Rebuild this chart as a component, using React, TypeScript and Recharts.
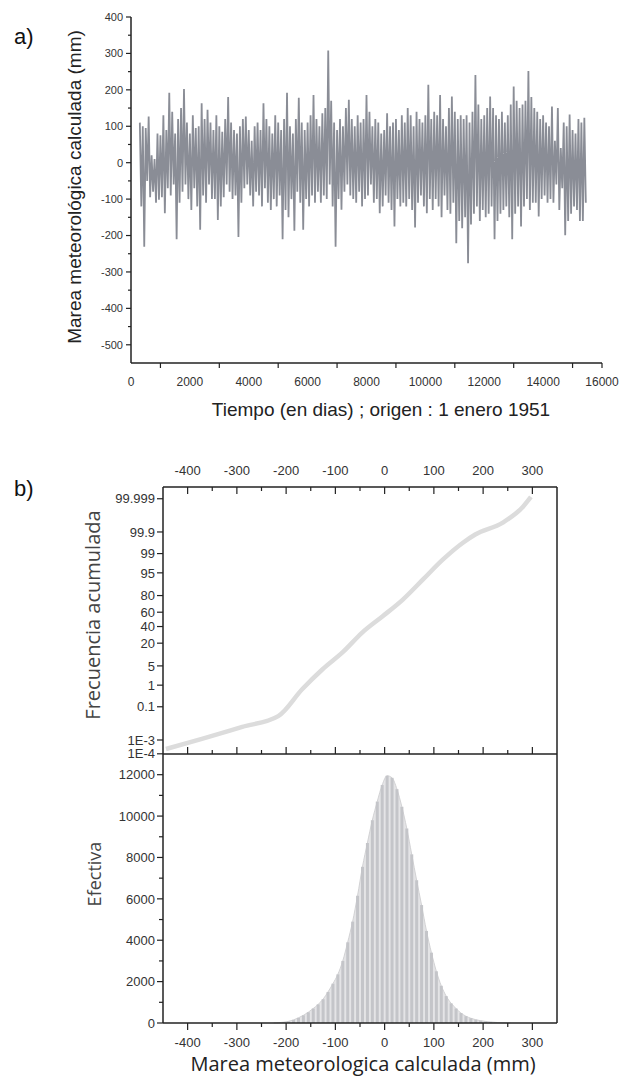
import React from 'react';
import { LineChart, Line, XAxis, YAxis, ComposedChart, Bar, Area } from 'recharts';

// a) daily series, condensed into high/low pairs every 100 days
const tideStartDay = 300;
const tideStepDays = 100;
const tideHigh = [
  110, 100, 95, 127, 20, 10, 80, 75, 130, 90,
  192, 140, 80, 120, 150, 202, 110, 80, 130, 95,
  100, 163, 120, 145, 110, 90, 130, 100, 85, 120,
  180, 110, 90, 80, 100, 120, 127, 90, 60, 100,
  110, 90, 163, 120, 100, 80, 130, 110, 90, 120,
  192, 100, 80, 120, 178, 110, 90, 110, 130, 186,
  120, 100, 136, 150, 308, 170, 110, 90, 120, 100,
  150, 173, 120, 100, 130, 110, 120, 186, 140, 100,
  120, 110, 80, 90, 136, 100, 110, 120, 90, 130,
  110, 150, 130, 100, 140, 120, 110, 130, 214, 120,
  140, 130, 186, 120, 100, 150, 182, 140, 120, 130,
  120, 130, 110, 140, 241, 160, 120, 130, 150, 182,
  150, 130, 120, 140, 110, 130, 160, 209, 170, 150,
  160, 170, 252, 180, 150, 140, 120, 130, 110, 100,
  154, 60, 150, 40, 110, 100, 132, 90, 80, 120, 110, 123,
];
const tideLow = [
  -120, -231, -50, -95, -80, -110, -102, -95, -139, -70,
  -90, -60, -210, -110, -80, -60, -100, -130, -70, -120,
  -184, -90, -110, -60, -100, -100, -157, -120, -95, -60,
  -80, -100, -90, -204, -110, -70, -60, -90, -120, -80,
  -90, -120, -70, -110, -130, -100, -120, -90, -210, -130,
  -150, -100, -187, -80, -110, -184, -100, -120, -90, -110,
  -80, -110, -90, -100, -60, -120, -231, -100, -129, -80,
  -60, -90, -100, -110, -80, -120, -100, -90, -60, -110,
  -100, -139, -120, -90, -110, -130, -175, -100, -120, -110,
  -120, -100, -130, -178, -110, -90, -120, -139, -100, -130,
  -100, -120, -150, -90, -130, -140, -110, -221, -160, -180,
  -150, -276, -170, -140, -120, -160, -130, -150, -140, -120,
  -210, -160, -140, -130, -120, -150, -210, -140, -120, -175,
  -120, -100, -130, -110, -110, -148, -100, -90, -110, -100,
  -110, -60, -130, -70, -199, -160, -140, -120, -130, -160, -160, -110,
];
const dayTicks = [0, 1000, 2000, 3000, 4000, 5000, 6000, 7000, 8000, 9000, 10000, 11000, 12000, 13000, 14000, 15000, 16000];
const tideTicks = [-500, -450, -400, -350, -300, -250, -200, -150, -100, -50, 0, 50, 100, 150, 200, 250, 300, 350, 400];

// b) cumulative frequency (%) and histogram
const cumMm = [-444, -371, -289, -216, -167, -126, -85, -45, -4, 37, 78, 118, 159, 184, 240, 281, 297];
const cumPct = [0.00023, 0.0012, 0.0072, 0.031, 0.69, 3.9, 12.3, 32.3, 54.4, 75.8, 92.1, 98.26, 99.664, 99.865, 99.969, 99.9966, 99.99925];
const probTicks = [0.0001, 0.001, 0.1, 1, 5, 20, 40, 60, 80, 95, 99, 99.9, 99.999];
const probLabels = ['1E-4', '1E-3', '0.1', '1', '5', '20', '40', '60', '80', '95', '99', '99.9', '99.999'];
const mmTicks = [-400, -350, -300, -250, -200, -150, -100, -50, 0, 50, 100, 150, 200, 250, 300];

const binMm = [
  -225, -215, -205, -195, -185, -175, -165, -155, -145, -135, -125, -115, -105, -95, -85, -75, -65,
  -55, -45, -35, -25, -15, -5, 5, 15, 25, 35, 45, 55, 65, 75, 85, 95, 105, 115, 125, 135, 145,
  155, 165, 175, 185, 195, 205, 215, 225, 235, 245, 255,
];
const binCount = [
  5, 15, 40, 80, 150, 250, 370, 520, 700, 900, 1150, 1500, 1900, 2350, 3000, 3900, 4900,
  6150, 7550, 8700, 9800, 10700, 11500, 11950, 11850, 11300, 10450, 9400, 8150, 6900, 5700, 4450, 3400, 2500, 1800, 1300, 950, 700,
  480, 330, 230, 160, 110, 75, 50, 30, 15, 8, 3,
];
const countTicks = [0, 1000, 2000, 3000, 4000, 5000, 6000, 7000, 8000, 9000, 10000, 11000, 12000];

// inverse normal cdf (Acklam), for the probability axis
function probit(p: number) {
  const a = [-39.69683028665376, 220.9460984245205, -275.9285104469687, 138.357751867269, -30.66479806614716, 2.506628277459239];
  const b = [-54.47609879822406, 161.5858368580409, -155.6989798598866, 66.80131188771972, -13.28068155288572];
  const c = [-0.007784894002430293, -0.3223964580411365, -2.400758277161838, -2.549671348594094, 4.374664141464968, 2.938163982698783];
  const d = [0.007784695709041462, 0.3224671290700398, 2.445134137142996, 3.754408661907416];
  const lo = 0.02425;
  if (p < lo) {
    const q = Math.sqrt(-2 * Math.log(p));
    return (((((c[0] * q + c[1]) * q + c[2]) * q + c[3]) * q + c[4]) * q + c[5]) / ((((d[0] * q + d[1]) * q + d[2]) * q + d[3]) * q + 1);
  }
  if (p > 1 - lo) {
    const q = Math.sqrt(-2 * Math.log(1 - p));
    return -(((((c[0] * q + c[1]) * q + c[2]) * q + c[3]) * q + c[4]) * q + c[5]) / ((((d[0] * q + d[1]) * q + d[2]) * q + d[3]) * q + 1);
  }
  const q = p - 0.5;
  const r = q * q;
  return ((((((a[0] * r + a[1]) * r + a[2]) * r + a[3]) * r + a[4]) * r + a[5]) * q) / (((((b[0] * r + b[1]) * r + b[2]) * r + b[3]) * r + b[4]) * r + 1);
}

const tideData = tideHigh.flatMap((h, i) => [
  { day: tideStartDay + i * tideStepDays, v: h },
  { day: tideStartDay + i * tideStepDays + tideStepDays / 2, v: tideLow[i] },
]);
const cumData = cumMm.map((m, i) => ({ mm: m, z: probit(cumPct[i] / 100) }));
const probZ = probTicks.map((p) => probit(p / 100));
const histData = binMm.map((m, i) => ({ mm: m, count: binCount[i] }));

const tickFont = "'Liberation Sans Narrow', 'Liberation Sans', Arial, sans-serif";
const axisColor = '#222';

type Side = 'left' | 'right' | 'top' | 'bottom';
function makeTick(side: Side, len: (v: number) => number, label: (v: number) => string | null, gap: number, font: number) {
  return (props: any) => {
    const { x, y, payload } = props;
    const v = payload.value;
    const l = len(v);
    const t = label(v);
    let x2 = x, y2 = y, tx = x, ty = y, anchor: 'start' | 'middle' | 'end' = 'middle';
    if (side === 'left') { x2 = x - l; tx = x - gap; ty = y + font * 0.36; anchor = 'end'; }
    if (side === 'right') { x2 = x + l; tx = x + gap; ty = y + font * 0.36; anchor = 'start'; }
    if (side === 'bottom') { y2 = y + l; ty = y + gap; }
    if (side === 'top') { y2 = y - l; ty = y - gap; }
    return (
      <g>
        {l !== 0 && <line x1={x} y1={y} x2={x2} y2={y2} stroke={axisColor} strokeWidth={1.2} />}
        {t !== null && (
          <text x={tx} y={ty} textAnchor={anchor} fontSize={font} fontFamily={tickFont} fill="#333">{t}</text>
        )}
      </g>
    );
  };
}

const probLabel = (z: number) => {
  let best = 0;
  probZ.forEach((pz, i) => { if (Math.abs(pz - z) < Math.abs(probZ[best] - z)) best = i; });
  return probLabels[best];
};

const axisLine = { stroke: axisColor, strokeWidth: 1.5 };

function VLabel({ x, y, text, size, family, color }: { x: number; y: number; text: string; size: number; family: string; color: string }) {
  return (
    <div style={{ position: 'absolute', left: x, top: y, transform: 'translate(-50%, -50%) rotate(-90deg)', whiteSpace: 'nowrap', lineHeight: 1.1, fontSize: size, fontFamily: family, color }}>
      {text}
    </div>
  );
}
function HLabel({ x, y, text, size, family, color }: { x: number; y: number; text: string; size: number; family: string; color: string }) {
  return (
    <div style={{ position: 'absolute', left: x, top: y, transform: 'translate(-50%, -50%)', whiteSpace: 'nowrap', lineHeight: 1.1, fontSize: size, fontFamily: family, color }}>
      {text}
    </div>
  );
}

export default function App() {
  const sans = "'Liberation Sans', Arial, sans-serif";
  const humanist = "'Open Sans', 'Noto Sans', sans-serif";
  return (
    <div style={{ position: 'absolute', left: 0, top: 0, width: 632, height: 1078, background: '#fff', overflow: 'hidden' }}>
      <div style={{ position: 'absolute', left: 14, top: 24, fontSize: 22, fontFamily: sans, color: '#111' }}>a)</div>
      <div style={{ position: 'absolute', left: 14, top: 476, fontSize: 22, fontFamily: sans, color: '#111' }}>b)</div>

      <div style={{ position: 'absolute', left: 0, top: 0 }}>
        <LineChart width={632} height={400} data={tideData} margin={{ top: 17, right: 30, bottom: 7, left: 0 }}>
          <XAxis dataKey="day" type="number" domain={[0, 16000]} ticks={dayTicks} interval={0} height={30}
            axisLine={axisLine} tickLine={false} tickSize={0} tickMargin={0}
            tick={makeTick('bottom', (v) => (v % 2000 !== 0 || v === 16000 ? 5 : 0), (v) => (v % 2000 === 0 ? String(v) : null), 23, 12)} />
          <YAxis dataKey="v" type="number" domain={[-550, 400]} ticks={tideTicks} interval={0} width={131}
            axisLine={axisLine} tickLine={false} tickSize={0} tickMargin={0}
            tick={makeTick('left', (v) => (v % 100 === 0 ? 5 : 3), (v) => (v % 100 === 0 ? String(v) : null), 8, 11)} />
          <Line dataKey="v" type="linear" stroke="#8a8d96" strokeWidth={1.8} dot={false} isAnimationActive={false} />
        </LineChart>
      </div>
      <VLabel x={75} y={187} text="Marea meteorológica calculada (mm)" size={19} family={sans} color="#222" />
      <HLabel x={381} y={410} text="Tiempo (en dias) ; origen : 1 enero 1951" size={19} family={sans} color="#222" />

      <div style={{ position: 'absolute', left: 0, top: 440 }}>
        <LineChart width={632} height={325} data={cumData} margin={{ top: 12, right: 74, bottom: 10, left: 0 }}>
          <XAxis xAxisId="top" orientation="top" dataKey="mm" type="number" domain={[-450, 350]} ticks={mmTicks} interval={0} height={35}
            axisLine={axisLine} tickLine={false} tickSize={0} tickMargin={0}
            tick={makeTick('top', (v) => (v % 100 === 0 ? -7 : -4), (v) => (v % 100 === 0 ? String(v) : null), 12, 13)} />
          <XAxis xAxisId="bot" orientation="bottom" dataKey="mm" type="number" domain={[-450, 350]} ticks={mmTicks} interval={0} height={1}
            axisLine={axisLine} tickLine={false} tickSize={0} tickMargin={0}
            tick={makeTick('bottom', (v) => (v % 100 === 0 ? -7 : -4), () => null, 0, 13)} />
          <YAxis yAxisId="l" dataKey="z" type="number" domain={[-4.76, 4.68]} ticks={probZ} interval={0} width={163}
            axisLine={axisLine} tickLine={false} tickSize={0} tickMargin={0}
            tick={makeTick('left', () => 6, probLabel, 8, 13)} />
          <YAxis yAxisId="r" orientation="right" type="number" domain={[-4.76, 4.68]} ticks={probZ} interval={0} width={1}
            axisLine={axisLine} tickLine={false} tickSize={0} tickMargin={0}
            tick={makeTick('right', () => -6, () => null, 0, 13)} />
          <Line xAxisId="top" yAxisId="l" dataKey="z" type="monotone" stroke="#dcdcdc" strokeWidth={4.5} dot={false} isAnimationActive={false} />
        </LineChart>
      </div>

      <div style={{ position: 'absolute', left: 0, top: 744 }}>
        <ComposedChart width={632} height={309} data={histData} margin={{ top: 10, right: 74, bottom: 0, left: 0 }}>
          <XAxis dataKey="mm" type="number" domain={[-450, 350]} ticks={mmTicks} interval={0} height={30}
            axisLine={axisLine} tickLine={false} tickSize={0} tickMargin={0}
            tick={makeTick('bottom', (v) => (v % 100 === 0 ? 7 : 4), (v) => (v % 100 === 0 ? String(v) : null), 24, 13)} />
          <YAxis yAxisId="l" type="number" domain={[0, 13000]} ticks={countTicks} interval={0} width={163}
            axisLine={axisLine} tickLine={false} tickSize={0} tickMargin={0}
            tick={makeTick('left', (v) => (v % 2000 === 0 ? 6 : 4), (v) => (v % 2000 === 0 ? String(v) : null), 8, 13)} />
          <YAxis yAxisId="r" orientation="right" type="number" domain={[0, 13000]} ticks={countTicks} interval={0} width={1}
            axisLine={axisLine} tickLine={false} tickSize={0} tickMargin={0}
            tick={makeTick('right', (v) => (v % 2000 === 0 ? -6 : -4), () => null, 0, 13)} />
          <Area yAxisId="l" dataKey="count" type="monotone" fill="#e4e4e6" fillOpacity={1} stroke="#d2d2d4" strokeWidth={1} isAnimationActive={false} />
          <Bar yAxisId="l" dataKey="count" fill="#c4c5c9" barSize={3} isAnimationActive={false} />
        </ComposedChart>
      </div>
      <VLabel x={93} y={615} text="Frecuencia acumulada" size={20} family={humanist} color="#444" />
      <VLabel x={95} y={874} text="Efectiva" size={18} family={humanist} color="#444" />
      <HLabel x={363} y={1064} text="Marea meteorologica calculada (mm)" size={20} family={humanist} color="#222" />
    </div>
  );
}
